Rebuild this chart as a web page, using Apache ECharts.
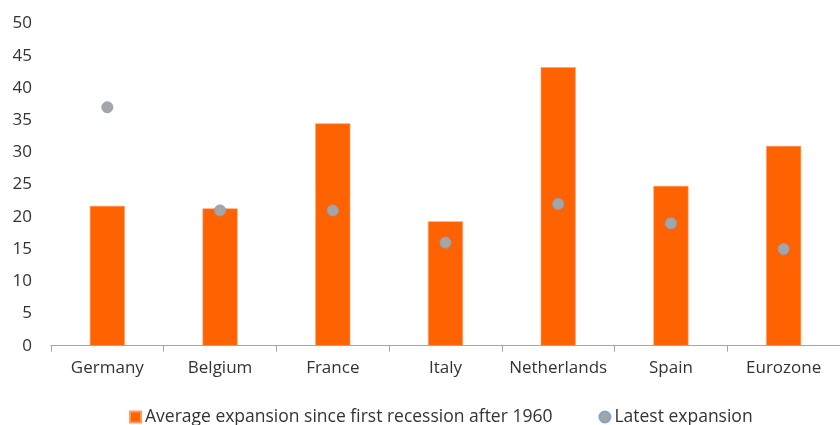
<!DOCTYPE html>
<html>
<head>
<meta charset="utf-8">
<style>
  html, body { margin: 0; padding: 0; background: #fff; }
  #chart { width: 840px; height: 425px; }
</style>
<script src="https://cdn.jsdelivr.net/npm/echarts@6/dist/echarts.min.js"></script>
</head>
<body>
<div id="chart"></div>
<script>
// Countries on the category axis
const countries = ['Germany', 'Belgium', 'France', 'Italy', 'Netherlands', 'Spain', 'Eurozone'];
// Average length of expansions since the first recession after 1960 (quarters)
const averageExpansion = [21.7, 21.3, 34.5, 19.3, 43.2, 24.8, 31.0];
// Length of the latest expansion (quarters)
const latestExpansion = [37.0, 21.0, 21.0, 16.0, 22.0, 19.0, 15.0];
// Value axis ticks
const yTicks = [0, 5, 10, 15, 20, 25, 30, 35, 40, 45, 50];

const FONT = '"Open Sans", "Noto Sans", sans-serif';
const TEXT = '#333333';

const chart = echarts.init(document.getElementById('chart'), null, { renderer: 'canvas' });

chart.setOption({
  animation: false,
  backgroundColor: '#ffffff',
  grid: { left: 51, right: -7, top: 23.5, bottom: 79.3, containLabel: false },
  legend: {
    bottom: -6,
    left: 124,
    itemWidth: 11,
    itemHeight: 11,
    itemGap: 46,
    textStyle: { fontFamily: FONT, fontSize: 17.5, color: TEXT, padding: [0, 0, 0, -1] },
    data: [
      { name: 'Average expansion since first recession after 1960', icon: 'rect' },
      { name: 'Latest expansion', icon: 'circle' }
    ]
  },
  xAxis: {
    type: 'category',
    data: countries,
    axisLine: { lineStyle: { color: '#a6a6a6', width: 1 } },
    axisTick: { show: true, interval: 0, length: 6, lineStyle: { color: '#a6a6a6' } },
    axisLabel: { interval: 0, fontFamily: FONT, fontSize: 17, color: TEXT, margin: 14 }
  },
  yAxis: {
    type: 'value',
    min: yTicks[0],
    max: yTicks[yTicks.length - 1],
    interval: yTicks[1] - yTicks[0],
    splitLine: { show: false },
    axisLine: { show: false },
    axisTick: { show: false },
    axisLabel: { fontFamily: FONT, fontSize: 17, color: TEXT, margin: 19 }
  },
  series: [
    {
      name: 'Average expansion since first recession after 1960',
      type: 'bar',
      data: averageExpansion,
      barWidth: 35,
      itemStyle: { color: '#FF6200', borderColor: '#ff9a66', borderWidth: 0.6 }
    },
    {
      name: 'Latest expansion',
      type: 'scatter',
      data: latestExpansion,
      symbol: 'circle',
      symbolSize: 11,
      itemStyle: { color: '#a5a5a5', borderColor: '#7fa6cf', borderWidth: 1, opacity: 1 },
      z: 3
    }
  ]
});
</script>
</body>
</html>
